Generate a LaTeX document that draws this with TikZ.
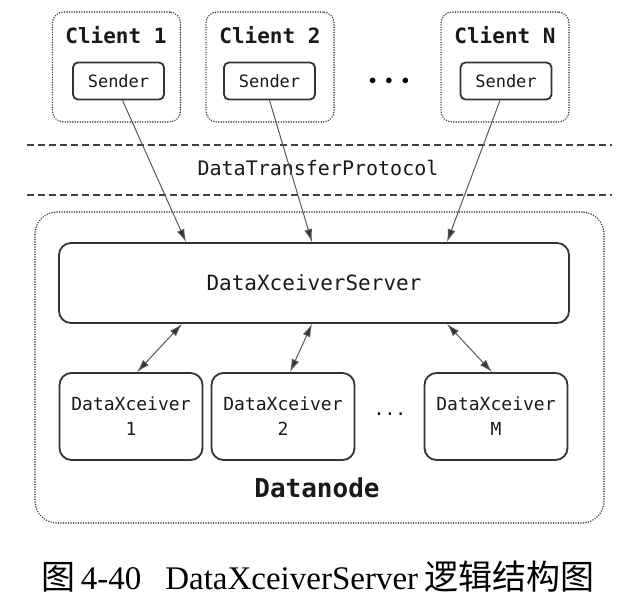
\documentclass[tikz,border=0pt]{standalone}
\usepackage{fontspec}
\setmainfont{Liberation Serif}
\setmonofont{DejaVu Sans Mono}
\newfontfamily\cjk{Noto Sans CJK SC}
\usetikzlibrary{arrows.meta}

\begin{document}
\begin{tikzpicture}[x=1pt,y=-1pt,
  client/.style={rectangle,draw=black!75,line width=1.6pt,dash pattern=on 0.1pt off 2.4pt,line cap=round,rounded corners=11pt,minimum width=128pt,minimum height=110pt},
  title/.style={font=\ttfamily\bfseries\fontsize{21}{24}\selectfont,text=black!90},
  sender/.style={rectangle,draw=black!80,line width=1.8pt,rounded corners=5pt,minimum width=91pt,minimum height=37pt,font=\ttfamily\fontsize{17}{20}\selectfont,text=black!90},
  srv/.style={rectangle,draw=black!80,line width=1.8pt,rounded corners=12pt,minimum width=510pt,minimum height=80pt,font=\ttfamily\fontsize{21}{24}\selectfont,text=black!90},
  xceiver/.style={rectangle,draw=black!80,line width=1.8pt,rounded corners=12pt,minimum width=143pt,minimum height=87pt,align=center,font=\ttfamily\fontsize{18}{25}\selectfont,text=black!90},
  dnode/.style={rectangle,draw=black!75,line width=1.6pt,dash pattern=on 0.1pt off 2.4pt,line cap=round,rounded corners=22pt,minimum width=569pt,minimum height=311pt},
  sep/.style={draw=black!75,line width=1.4pt,dash pattern=on 7pt off 4pt},
  link/.style={draw=black!65,line width=1pt,-{Latex[length=13pt,width=8pt,fill=black!80]}},
  dlink/.style={draw=black!65,line width=1pt,{Latex[length=13pt,width=8pt,fill=black!80]}-{Latex[length=13pt,width=8pt,fill=black!80]}}]

  \useasboundingbox (0,0) rectangle (637,606);

  % clients
  \node[client] at (116.5,67) (cl1) {};
  \node[client] at (270,67)   (cl2) {};
  \node[client] at (505,67)   (cln) {};
  \node[title]  at (116,35)   (t1)  {Client 1};
  \node[title]  at (270,35)   (t2)  {Client 2};
  \node[title]  at (505,35)   (tn)  {Client N};
  \node[sender] at (118.5,81) (s1)  {Sender};
  \node[sender] at (269.5,81) (s2)  {Sender};
  \node[sender] at (506,81)   (sn)  {Sender};
  \node[font=\fontsize{14}{14}\selectfont] at (389,81) (cdots) {$\bullet\hspace{6pt}\bullet\hspace{6pt}\bullet$};

  % protocol band
  \draw[sep] (27,145) -- (612,145);
  \draw[sep] (27,195) -- (612,195);
  \node[font=\ttfamily\fontsize{20}{24}\selectfont,text=black!90] at (318,168) (dtp) {DataTransferProtocol};

  % datanode
  \node[dnode] at (319.5,367.5) (dn) {};
  \node[srv] at (314,283) (server) {DataXceiverServer};
  \node[xceiver] at (131,416.5) (x1) {DataXceiver\\1};
  \node[xceiver] at (283,416.5) (x2) {DataXceiver\\2};
  \node[xceiver] at (496,416.5) (xm) {DataXceiver\\M};
  \node[font=\ttfamily\fontsize{18}{20}\selectfont] at (390,414) (xdots) {...};
  \node[font=\ttfamily\bfseries\fontsize{26}{30}\selectfont,text=black!90] at (317,488) (dnlabel) {Datanode};

  \draw[link]  ([xshift=4pt]s1.south)    -- ([xshift=-128pt]server.north);
  \draw[link]  (s2.south)                -- ([xshift=-2pt]server.north);
  \draw[link]  ([xshift=-6pt]sn.south)   -- ([xshift=133pt]server.north);
  \draw[dlink] ([xshift=-132pt]server.south) -- ([xshift=6pt]x1.north);
  \draw[dlink] ([xshift=-2pt]server.south)   -- ([xshift=7pt]x2.north);
  \draw[dlink] ([xshift=133pt]server.south)  -- ([xshift=-4pt]xm.north);

  % caption
  \node[font=\fontsize{33}{36}\selectfont] at (318,577) (caption) {{\cjk\fontsize{34}{36}\selectfont 图}\hspace{5pt}4-40\hspace{24pt}DataXceiverServer\hspace{6pt}{\cjk\fontsize{34}{36}\selectfont 逻辑结构图}};

\end{tikzpicture}
\end{document}
